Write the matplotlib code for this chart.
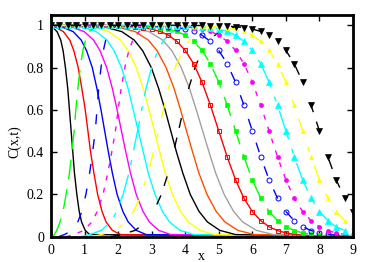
import numpy as np
import matplotlib
matplotlib.use("Agg")
import matplotlib.pyplot as plt

plt.rcParams['font.family'] = ['Liberation Serif', 'DejaVu Serif']

# ---- solid decreasing curves: x position where each curve reaches the given level
dec_levels = [1.0, 0.99, 0.97, 0.93, 0.88, 0.8, 0.7, 0.6, 0.5, 0.4, 0.3, 0.2, 0.12, 0.07, 0.03, 0.01, 0.0]
sol_black1 = [0, 0.05, 0.18, 0.29, 0.36, 0.43, 0.50, 0.55, 0.60, 0.65, 0.70, 0.77, 0.84, 0.91, 1.02, 1.15, 9]
sol_red1 = [0, 0.14, 0.37, 0.56, 0.68, 0.81, 0.92, 1.02, 1.10, 1.18, 1.28, 1.39, 1.52, 1.64, 1.83, 2.07, 9]
sol_blue = [0, 0.36, 0.66, 0.90, 1.06, 1.23, 1.37, 1.49, 1.60, 1.71, 1.83, 1.97, 2.14, 2.30, 2.54, 2.84, 9]
sol_magenta = [0, 0.63, 0.99, 1.27, 1.46, 1.66, 1.83, 1.97, 2.10, 2.23, 2.37, 2.54, 2.74, 2.93, 3.21, 3.57, 9]
sol_cyan = [0, 0.95, 1.35, 1.67, 1.88, 2.10, 2.30, 2.45, 2.60, 2.75, 2.90, 3.10, 3.32, 3.53, 3.85, 4.25, 9]
sol_yellow = [0, 1.29, 1.72, 2.07, 2.30, 2.54, 2.75, 2.92, 3.08, 3.24, 3.41, 3.62, 3.86, 4.09, 4.44, 4.87, 9]
sol_black2 = [0, 1.64, 2.11, 2.48, 2.73, 2.99, 3.21, 3.40, 3.57, 3.74, 3.93, 4.15, 4.41, 4.66, 5.03, 5.50, 9]
sol_orange = [0, 2.02, 2.51, 2.90, 3.16, 3.43, 3.67, 3.86, 4.04, 4.22, 4.41, 4.65, 4.92, 5.18, 5.57, 6.06, 9]
sol_gray = [0, 2.41, 2.92, 3.33, 3.60, 3.88, 4.13, 4.33, 4.52, 4.71, 4.91, 5.16, 5.44, 5.71, 6.12, 6.63, 9]

# ---- dashed rising curves: x position where each curve reaches the given level
rise_levels = [0.0, 0.01, 0.03, 0.07, 0.12, 0.2, 0.3, 0.4, 0.5, 0.6, 0.7, 0.8, 0.88, 0.93, 0.97, 0.99, 1.0]
rise_green = [0.05, 0.10, 0.17, 0.27, 0.36, 0.45, 0.55, 0.62, 0.69, 0.74, 0.80, 0.87, 0.95, 1.03, 1.14, 1.29, 1.40]
rise_blue = [0.22, 0.40, 0.63, 0.80, 0.92, 1.04, 1.15, 1.24, 1.32, 1.37, 1.42, 1.49, 1.56, 1.63, 1.74, 1.87, 1.98]
rise_magenta = [0.44, 0.68, 0.98, 1.22, 1.38, 1.55, 1.69, 1.81, 1.92, 2.00, 2.09, 2.20, 2.32, 2.44, 2.62, 2.84, 3.02]
rise_cyan = [0.88, 1.16, 1.50, 1.78, 1.96, 2.15, 2.32, 2.45, 2.58, 2.70, 2.83, 3.00, 3.18, 3.36, 3.62, 3.96, 4.23]
rise_yellow = [1.17, 1.50, 1.91, 2.24, 2.46, 2.69, 2.89, 3.05, 3.20, 3.35, 3.50, 3.70, 3.92, 4.13, 4.45, 4.85, 5.18]
rise_black = [1.77, 2.10, 2.51, 2.84, 3.06, 3.29, 3.49, 3.65, 3.80, 3.94, 4.10, 4.29, 4.50, 4.71, 5.02, 5.41, 5.73]

# ---- point series sampled every 0.25 in x
x_pts = np.linspace(0, 9, 37)
pts_red = [1.0, 1.0, 1.0, 1.0, 1.0, 0.999, 0.999, 0.998, 0.998, 0.996, 0.993, 0.989, 0.982, 0.971, 0.953,
           0.924, 0.881, 0.818, 0.731, 0.622, 0.5, 0.378, 0.269, 0.182, 0.119, 0.076, 0.047, 0.029, 0.018,
           0.011, 0.007, 0.004, 0.002, 0.002, 0.001, 0.001, 0.0]
pts_green = [1.0, 1.0, 1.0, 1.0, 1.0, 1.0, 1.0, 0.999, 0.999, 0.998, 0.998, 0.996, 0.993, 0.989, 0.982,
             0.971, 0.953, 0.924, 0.881, 0.818, 0.731, 0.622, 0.5, 0.378, 0.269, 0.182, 0.119, 0.076,
             0.047, 0.029, 0.018, 0.011, 0.007, 0.004, 0.002, 0.002, 0.001]
pts_blue = [1.0, 1.0, 1.0, 1.0, 1.0, 1.0, 1.0, 1.0, 1.0, 0.999, 0.999, 0.998, 0.998, 0.996, 0.993, 0.989,
            0.982, 0.971, 0.953, 0.924, 0.881, 0.818, 0.731, 0.622, 0.5, 0.378, 0.269, 0.182, 0.119,
            0.076, 0.047, 0.029, 0.018, 0.011, 0.007, 0.004, 0.002]
pts_magenta = [1.0, 1.0, 1.0, 1.0, 1.0, 1.0, 1.0, 1.0, 1.0, 1.0, 1.0, 0.999, 0.999, 0.998, 0.998, 0.996,
               0.993, 0.989, 0.982, 0.971, 0.953, 0.924, 0.881, 0.818, 0.731, 0.622, 0.5, 0.378, 0.269,
               0.182, 0.119, 0.076, 0.047, 0.029, 0.018, 0.011, 0.007]
pts_cyan = [1.0, 1.0, 1.0, 1.0, 1.0, 1.0, 1.0, 1.0, 1.0, 1.0, 1.0, 1.0, 1.0, 0.999, 0.999, 0.998, 0.998,
            0.996, 0.993, 0.989, 0.982, 0.971, 0.953, 0.924, 0.881, 0.818, 0.731, 0.622, 0.5, 0.378,
            0.269, 0.182, 0.119, 0.076, 0.047, 0.029, 0.018]
pts_yellow = [1.0, 1.0, 1.0, 1.0, 1.0, 1.0, 1.0, 1.0, 1.0, 1.0, 1.0, 1.0, 1.0, 1.0, 1.0, 0.999, 0.999,
              0.998, 0.998, 0.996, 0.993, 0.989, 0.982, 0.971, 0.953, 0.924, 0.881, 0.818, 0.731, 0.622,
              0.5, 0.378, 0.269, 0.182, 0.119, 0.076, 0.047]
pts_black = [1.0, 1.0, 1.0, 1.0, 1.0, 1.0, 1.0, 1.0, 1.0, 1.0, 1.0, 1.0, 1.0, 1.0, 1.0, 1.0, 1.0, 0.999,
             0.999, 0.998, 0.998, 0.996, 0.993, 0.989, 0.982, 0.971, 0.953, 0.924, 0.881, 0.818, 0.731,
             0.622, 0.5, 0.378, 0.269, 0.182, 0.119]

xticks = [0, 1, 2, 3, 4, 5, 6, 7, 8, 9]
yticks = [0, 0.2, 0.4, 0.6, 0.8, 1.0]
ytick_labels = ["0", "0.2", "0.4", "0.6", "0.8", "1"]

RED, GREEN, BLUE, MAG, CYAN, YEL, BLK, ORA, GRY = ('#ff0000', '#00ff00', '#0000ff', '#ff00ff', '#00ffff',
                                                  '#ffff00', '#000000', '#ff4d00', '#a0a0a0')
dl = 3.6
DASH = {
    GREEN: (0, (4 * dl, 2 * dl)),
    BLUE: (0, (2 * dl, 3 * dl)),
    MAG: (0, (1 * dl, 1.5 * dl)),
    CYAN: (0, (6 * dl, 2 * dl, 1 * dl, 2 * dl)),
    YEL: (0, (3 * dl, 3 * dl, 1 * dl, 3 * dl)),
    BLK: (0, (2 * dl, 2 * dl, 2 * dl, 6 * dl)),
}

fig = plt.figure(figsize=(3.74, 2.62), dpi=100)
ax = fig.add_axes([51 / 374, 1 - 236.7 / 262, (353 - 51) / 374, (236.7 - 14.7) / 262])

lw = 1.0
for xs, c in [(sol_black1, BLK), (sol_red1, RED), (sol_blue, BLUE), (sol_magenta, MAG), (sol_cyan, CYAN),
              (sol_yellow, YEL), (sol_black2, BLK), (sol_orange, ORA), (sol_gray, GRY)]:
    ax.plot(xs, dec_levels, color=c, lw=lw)

for xs, c in [(rise_green, GREEN), (rise_blue, BLUE), (rise_magenta, MAG), (rise_cyan, CYAN),
              (rise_yellow, YEL), (rise_black, BLK)]:
    ax.plot(xs, rise_levels, color=c, lw=lw, linestyle=DASH[c])

ax.plot(x_pts, pts_red, color=RED, lw=lw, marker='s', ms=3.4, mfc='none', mec=RED, mew=0.7)
ax.plot(x_pts, pts_green, color=GREEN, lw=lw, linestyle=DASH[GREEN], marker='s', ms=3.2, mfc=GREEN, mec=GREEN, mew=0.5)
ax.plot(x_pts, pts_blue, color=BLUE, lw=lw, linestyle=DASH[BLUE], marker='o', ms=3.6, mfc='none', mec=BLUE, mew=0.7)
ax.plot(x_pts, pts_magenta, color=MAG, lw=lw, linestyle=DASH[MAG], marker='o', ms=2.9, mfc=MAG, mec=MAG, mew=0.5)
ax.plot(x_pts, pts_cyan, color=CYAN, lw=lw, linestyle=DASH[CYAN], marker='^', ms=3.8, mfc=CYAN, mec=CYAN, mew=0.5)
ax.plot(x_pts, pts_yellow, color=YEL, lw=lw, linestyle=DASH[YEL], marker='^', ms=2.9, mfc=YEL, mec=YEL, mew=0.5)
ax.plot(x_pts, pts_black, color=BLK, lw=lw, linestyle=DASH[BLK], marker='v', ms=3.8, mfc=BLK, mec=BLK, mew=0.5)

ax.set_xlim(0, 9)
ax.set_ylim(0, 1.05)
ax.set_xticks(xticks)
ax.set_xticklabels([str(v) for v in xticks])
ax.set_yticks(yticks)
ax.set_yticklabels(ytick_labels)
ax.tick_params(direction='in', top=True, right=True, length=4, width=1, labelsize=10)
ax.tick_params(axis='y', pad=5)
ax.tick_params(axis='x', pad=5)
for s in ax.spines.values():
    s.set_linewidth(2.0)

fig.text(15 / 374, 1 - 142 / 262, 'C(x,t)', rotation=90, ha='center', va='center', fontsize=10)
fig.text(201.7 / 374, 1 - 256 / 262, 'x', ha='center', va='center', fontsize=10)

fig.savefig('out.png', dpi=100)
